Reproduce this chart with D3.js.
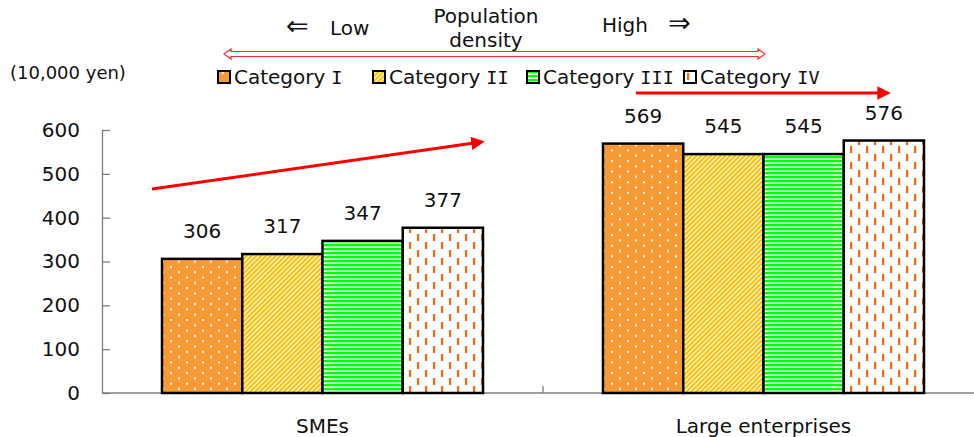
<!DOCTYPE html>
<html>
<head>
<meta charset="utf-8">
<script src="https://cdn.jsdelivr.net/npm/d3@7"></script>
<style>
  body { margin: 0; background: #fff; }
  text { font-family: "DejaVu Sans", Verdana, sans-serif; fill: #111; }
</style>
</head>
<body>
<div id="chart"></div>
<script>
// data
var groups = ["SMEs", "Large enterprises"]
var categories = ["Category I", "Category II", "Category III", "Category IV"]
var smeValues = [306, 317, 347, 377]
var largeValues = [569, 545, 545, 576]
var yTicks = [0, 100, 200, 300, 400, 500, 600]

var rows = groups.map(function(g, i) {
  var vals = i === 0 ? smeValues : largeValues
  return { group: g, values: categories.map(function(c, j) { return { cat: c, value: vals[j] } }) }
})

var width = 974, height = 437

var svg = d3.select("#chart").append("svg")
  .attr("width", width)
  .attr("height", height)

// patterns
var defs = svg.append("defs")

var p1 = defs.append("pattern").attr("id", "pat0")
  .attr("patternUnits", "userSpaceOnUse").attr("width", 16).attr("height", 10.6)
  .attr("x", 4).attr("y", 1)
p1.append("rect").attr("width", 16).attr("height", 10.6).attr("fill", "#F79A34")
p1.append("rect").attr("x", 0).attr("y", 0).attr("width", 2).attr("height", 2).attr("fill", "#fff")
p1.append("rect").attr("x", 8).attr("y", 5.3).attr("width", 2).attr("height", 2).attr("fill", "#fff")

var p2 = defs.append("pattern").attr("id", "pat1")
  .attr("patternUnits", "userSpaceOnUse").attr("width", 3.4).attr("height", 10)
  .attr("patternTransform", "rotate(45)")
p2.append("rect").attr("width", 3.4).attr("height", 10).attr("fill", "#fff")
p2.append("rect").attr("width", 2.2).attr("height", 10).attr("fill", "#FFC000")

var p3 = defs.append("pattern").attr("id", "pat2")
  .attr("patternUnits", "userSpaceOnUse").attr("width", 10).attr("height", 4)
p3.append("rect").attr("width", 10).attr("height", 4).attr("fill", "#fff")
p3.append("rect").attr("width", 10).attr("height", 2.4).attr("fill", "#00FF00")

var p4 = defs.append("pattern").attr("id", "pat3")
  .attr("patternUnits", "userSpaceOnUse").attr("width", 16).attr("height", 16)
  .attr("x", 3).attr("y", 2)
p4.append("rect").attr("width", 16).attr("height", 16).attr("fill", "#fff")
p4.append("rect").attr("x", 0).attr("y", 0).attr("width", 2.2).attr("height", 7).attr("fill", "#FF6600")
p4.append("rect").attr("x", 8).attr("y", 8).attr("width", 2.2).attr("height", 7).attr("fill", "#FF6600")

var fillFor = function(c) { return "url(#pat" + categories.indexOf(c) + ")" }

// scales
var x0 = d3.scaleBand().domain(groups).range([102, 984])
var x1 = d3.scaleBand().domain(categories).range([60, 381])
var y = d3.scaleLinear().domain([0, 600]).range([393, 130])

// y axis
var yAxis = svg.append("g")
  .attr("transform", "translate(102,0)")
  .call(d3.axisLeft(y).tickValues(yTicks).tickSizeInner(-8).tickSizeOuter(0).tickPadding(22))
yAxis.selectAll("path, line").attr("stroke", "#7f7f7f").attr("stroke-width", 1.3)
yAxis.selectAll("text").attr("font-size", 20).attr("font-family", "DejaVu Sans").attr("fill", "#111")

// baseline + separator tick
svg.append("line")
  .attr("x1", 102).attr("x2", width).attr("y1", y(0)).attr("y2", y(0))
  .attr("stroke", "#7f7f7f").attr("stroke-width", 1.3)
svg.append("line")
  .attr("x1", x0("Large enterprises")).attr("x2", x0("Large enterprises"))
  .attr("y1", y(0)).attr("y2", y(0) - 7)
  .attr("stroke", "#7f7f7f").attr("stroke-width", 1.3)

// bars
var grp = svg.selectAll(".grp").data(rows).enter().append("g")
  .attr("transform", function(d) { return "translate(" + x0(d.group) + ",0)" })

grp.selectAll("rect").data(function(d) { return d.values }).enter().append("rect")
  .attr("x", function(d) { return x1(d.cat) })
  .attr("y", function(d) { return y(d.value) })
  .attr("width", x1.bandwidth())
  .attr("height", function(d) { return y(0) - y(d.value) })
  .attr("fill", function(d) { return fillFor(d.cat) })
  .attr("stroke", "#000")
  .attr("stroke-width", 2.5)

grp.selectAll(".lbl").data(function(d) { return d.values }).enter().append("text")
  .attr("x", function(d) { return x1(d.cat) + x1.bandwidth() / 2 })
  .attr("y", function(d) { return y(d.value) - 21 })
  .attr("text-anchor", "middle")
  .attr("font-size", 20)
  .text(function(d) { return d.value })

// category labels
svg.selectAll(".cat").data(groups).enter().append("text")
  .attr("x", function(d) { return x0(d) + x0.bandwidth() / 2 })
  .attr("y", 433)
  .attr("text-anchor", "middle")
  .attr("font-size", 20)
  .text(function(d) { return d })

// unit
svg.append("text").attr("x", 10).attr("y", 79).attr("font-size", 18).text("(10,000 yen)")

// legend
var legendX = [218, 373, 527, 684]
var leg = svg.selectAll(".leg").data(categories).enter().append("g")
  .attr("transform", function(d, i) { return "translate(" + legendX[i] + ",71)" })
leg.append("rect").attr("width", 12).attr("height", 12)
  .attr("fill", function(d) { return fillFor(d) })
  .attr("stroke", "#000").attr("stroke-width", 2)
var legText = leg.append("text").attr("x", 16).attr("y", 13).attr("font-size", 20)
legText.append("tspan").text(function(d) { return d.split(" ")[0] })
legText.append("tspan").attr("dx", 6)
  .attr("font-family", "DejaVu Sans Mono").attr("font-size", 18.5)
  .text(function(d) { return d.split(" ")[1] })

// population density header
var low = svg.append("text").attr("x", 286).attr("y", 35).attr("font-size", 20)
low.append("tspan").attr("font-size", 27).text("⇐")
low.append("tspan").attr("x", 330).text("Low")
svg.append("text").attr("x", 486).attr("y", 23).attr("font-size", 20).attr("text-anchor", "middle").text("Population")
svg.append("text").attr("x", 486).attr("y", 47).attr("font-size", 20).attr("text-anchor", "middle").text("density")
var high = svg.append("text").attr("x", 602).attr("y", 32).attr("font-size", 20)
high.append("tspan").text("High")
high.append("tspan").attr("x", 668).attr("font-size", 27).text("⇒")

// hollow double arrow
var ax1 = 224, ax2 = 765, ay = 54
var hollow = [[ax1, ay], [ax1 + 7, ay - 5], [ax1 + 7, ay - 2.5], [ax2 - 7, ay - 2.5], [ax2 - 7, ay - 5],
  [ax2, ay], [ax2 - 7, ay + 5], [ax2 - 7, ay + 2.5], [ax1 + 7, ay + 2.5], [ax1 + 7, ay + 5]]
svg.append("path").attr("d", d3.line()(hollow) + "Z")
  .attr("fill", "#fff").attr("stroke", "#f03030").attr("stroke-width", 1.2)

// red trend arrows
defs.append("marker").attr("id", "head")
  .attr("viewBox", "0 0 10 10").attr("refX", 2).attr("refY", 5)
  .attr("markerWidth", 4.5).attr("markerHeight", 4.5).attr("orient", "auto")
  .append("path").attr("d", "M0,0L10,5L0,10Z").attr("fill", "#FF0000")

var trends = [
  [[152, 189], [474, 143]],
  [[636, 93], [880, 93]]
]
svg.selectAll(".trend").data(trends).enter().append("path")
  .attr("d", function(d) { return d3.line()(d) })
  .attr("stroke", "#FF0000").attr("stroke-width", 3).attr("fill", "none")
  .attr("marker-end", "url(#head)")
</script>
</body>
</html>
